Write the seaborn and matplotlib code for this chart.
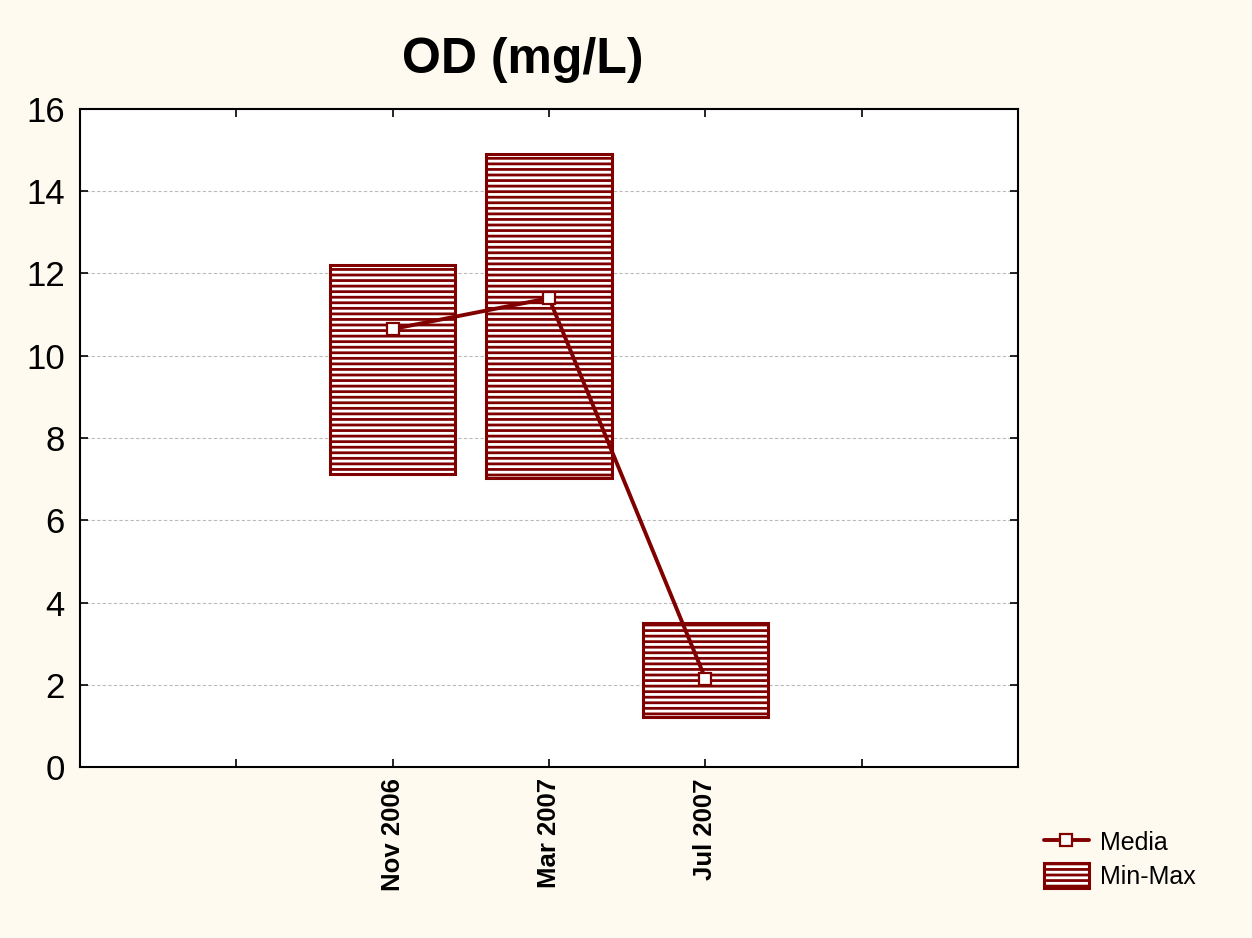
import numpy as np
import pandas as pd
import matplotlib
matplotlib.use("Agg")
import matplotlib.pyplot as plt
import seaborn as sns
from matplotlib.lines import Line2D
from matplotlib.patches import Patch

# --- Data ---
periods = ["Nov 2006", "Mar 2007", "Jul 2007"]
od_mean = [10.65, 11.40, 2.15]
od_min = [7.12, 7.03, 1.22]
od_max = [12.20, 14.90, 3.50]
y_ticks = [0, 2, 4, 6, 8, 10, 12, 14, 16]

DARK_RED = "#800000"
BG = "#FFFAF0"

sns.set_theme(style="white")
plt.rcParams["font.family"] = ["Liberation Sans", "DejaVu Sans"]
plt.rcParams["hatch.linewidth"] = 2.0
plt.rcParams["hatch.color"] = DARK_RED
plt.rcParams["text.color"] = "black"
plt.rcParams["xtick.color"] = "black"
plt.rcParams["ytick.color"] = "black"

df = pd.DataFrame({"period": periods, "mean": od_mean, "min": od_min, "max": od_max})
# place categories at 2, 3, 4 on a 0..6 axis, as the original layout does
df["pos"] = np.arange(len(df)) + 2

fig = plt.figure(figsize=(12.52, 9.38), dpi=100, facecolor=BG)
ax = fig.add_axes([80 / 1252, 1 - 767 / 938, (1018 - 80) / 1252, (767 - 109) / 938])
ax.set_facecolor("white")

# --- Min-Max boxes ---
ax.bar(df["pos"], df["max"] - df["min"], bottom=df["min"], width=0.8,
       facecolor="white", edgecolor=DARK_RED, hatch="---", linewidth=2.2, zorder=2)

# --- Mean line ---
sns.lineplot(data=df, x="pos", y="mean", ax=ax, color=DARK_RED, linewidth=2.8,
             marker="s", markersize=8, markerfacecolor="white",
             markeredgecolor=DARK_RED, markeredgewidth=1.6, zorder=3)

ax.set_xlim(0, 6)
ax.set_ylim(0, 16)
ax.set_yticks(y_ticks)
ax.set_xticks([1, 2, 3, 4, 5])
ax.set_xticklabels([""] + periods + [""], rotation=90, fontsize=18.5, fontweight="bold")
ax.tick_params(axis="y", labelsize=25, pad=11)
ax.tick_params(direction="in", length=6, width=1.2, color="black",
               top=True, right=True, bottom=True, left=True)
ax.tick_params(axis="x", pad=8)
ax.yaxis.grid(True, linestyle=(0, (3, 2)), color="#bbbbbb", linewidth=0.8)
ax.set_axisbelow(True)
ax.set_xlabel("")
ax.set_ylabel("")
for s in ax.spines.values():
    s.set_color("black")
    s.set_linewidth(1.5)

fig.text(523 / 1252, 1 - 60 / 938, "OD (mg/L)", ha="center", va="center",
         fontsize=36, fontweight="bold")

handles = [
    Line2D([0], [0], color=DARK_RED, linewidth=2.8, marker="s", markersize=8,
           markerfacecolor="white", markeredgecolor=DARK_RED, markeredgewidth=1.6),
    Patch(facecolor="white", edgecolor=DARK_RED, hatch="---", linewidth=2.2),
]
fig.legend(handles, ["Media", "Min-Max"], loc="center left",
           bbox_to_anchor=(1021 / 1252, 1 - 859 / 938), frameon=False,
           fontsize=18, handlelength=1.8, handleheight=1.2, labelspacing=0.3,
           handletextpad=0.48)

fig.savefig("out.png", dpi=100, facecolor=BG)
